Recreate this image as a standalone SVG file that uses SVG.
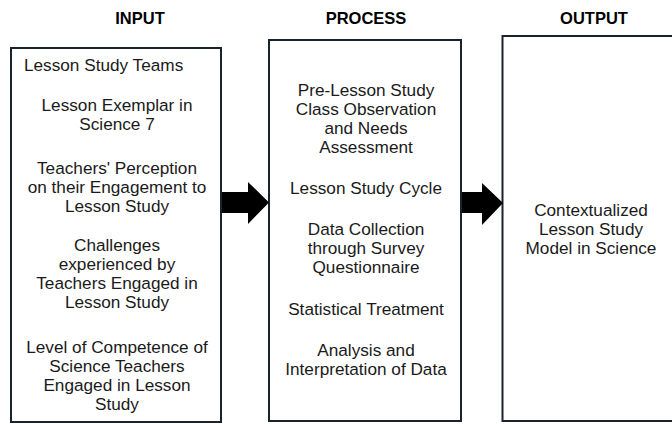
<svg xmlns="http://www.w3.org/2000/svg" width="672" height="424" viewBox="0 0 672 424">
  <style>
    .box { fill: #ffffff; stroke: #1a222c; stroke-width: 2; }
    .title { font-family: "Liberation Sans", Arial, sans-serif; font-size: 16.5px; font-weight: bold; fill: #000; text-anchor: middle; }
    .txt { font-family: "Liberation Sans", Arial, sans-serif; font-size: 17.2px; fill: #1a1a1a; text-anchor: middle; }
    .arrow { fill: #000; }
  </style>
  <rect width="672" height="424" fill="#ffffff"/>

  <!-- column headings -->
  <g id="headings">
    <text class="title" x="140" y="24">INPUT</text>
    <text class="title" x="366" y="24">PROCESS</text>
    <text class="title" x="594" y="24">OUTPUT</text>
  </g>

  <!-- input column -->
  <g id="input">
    <rect class="box" x="11" y="48" width="210" height="374"/>
    <text class="txt" x="24" y="71" style="text-anchor:start">Lesson Study Teams</text>
    <text class="txt" x="117" y="111">Lesson Exemplar in</text>
    <text class="txt" x="117" y="130">Science 7</text>
    <text class="txt" x="117" y="174">Teachers' Perception</text>
    <text class="txt" x="117" y="193">on their Engagement to</text>
    <text class="txt" x="117" y="212">Lesson Study</text>
    <text class="txt" x="117" y="251">Challenges</text>
    <text class="txt" x="117" y="270">experienced by</text>
    <text class="txt" x="117" y="289">Teachers Engaged in</text>
    <text class="txt" x="117" y="308">Lesson Study</text>
    <text class="txt" x="117" y="353">Level of Competence of</text>
    <text class="txt" x="117" y="372">Science Teachers</text>
    <text class="txt" x="117" y="391">Engaged in Lesson</text>
    <text class="txt" x="117" y="410">Study</text>
  </g>

  <!-- process column -->
  <g id="process">
    <rect class="box" x="269" y="40" width="192" height="381"/>
    <text class="txt" x="366" y="96">Pre-Lesson Study</text>
    <text class="txt" x="366" y="115">Class Observation</text>
    <text class="txt" x="366" y="134">and Needs</text>
    <text class="txt" x="366" y="153">Assessment</text>
    <text class="txt" x="366" y="194">Lesson Study Cycle</text>
    <text class="txt" x="366" y="235">Data Collection</text>
    <text class="txt" x="366" y="254">through Survey</text>
    <text class="txt" x="366" y="273">Questionnaire</text>
    <text class="txt" x="366" y="315">Statistical Treatment</text>
    <text class="txt" x="366" y="356">Analysis and</text>
    <text class="txt" x="366" y="375">Interpretation of Data</text>
  </g>

  <!-- output column -->
  <g id="output">
    <rect class="box" x="502.5" y="36" width="190" height="385"/>
    <text class="txt" x="591" y="216">Contextualized</text>
    <text class="txt" x="591" y="235">Lesson Study</text>
    <text class="txt" x="591" y="254">Model in Science</text>
  </g>

  <!-- block arrows between columns -->
  <g id="connectors">
    <polygon class="arrow" points="222,192 248,192 248,182 269,202.5 248,224 248,213 222,213"/>
    <polygon class="arrow" points="462,192 482,192 482,183 503,203 482,225 482,213 462,213"/>
  </g>
</svg>
